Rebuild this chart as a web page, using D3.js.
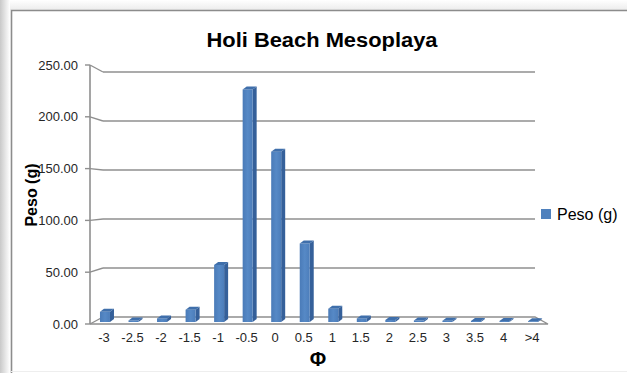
<!DOCTYPE html>
<html><head><meta charset="utf-8">
<script src="https://cdn.jsdelivr.net/npm/d3@7"></script>
<style>html,body{margin:0;padding:0;background:#fff;}svg{display:block;}</style>
</head><body>
<svg id="c" width="627" height="373"></svg>
<script>
const categories = ["-3","-2.5","-2","-1.5","-1","-0.5","0","0.5","1","1.5","2","2.5","3","3.5","4",">4"];
const pesoValues = [10, 1.5, 3.5, 12, 56, 228, 167, 77, 13, 3.5, 2, 1.5, 1.2, 1, 1, 0.8];
const yTickValues = [0, 50, 100, 150, 200, 250];
const chartTitle = "Holi Beach Mesoplaya";
const yTitle = "Peso (g)";
const xTitle = "Φ";
const seriesName = "Peso (g)";

const svg = d3.select("#c");
const font = "'Liberation Sans', Arial, sans-serif";

// background shadow + frame
const defs = svg.append("defs");
const lg = defs.append("linearGradient").attr("id","shL").attr("x1",0).attr("x2",1).attr("y1",0).attr("y2",0);
lg.append("stop").attr("offset",0).attr("stop-color","#c9c9c9");
lg.append("stop").attr("offset",1).attr("stop-color","#ffffff");
const tg = defs.append("linearGradient").attr("id","shT").attr("x1",0).attr("x2",0).attr("y1",0).attr("y2",1);
tg.append("stop").attr("offset",0).attr("stop-color","#ffffff");
tg.append("stop").attr("offset",1).attr("stop-color","#ececec");
const bg = defs.append("linearGradient").attr("id","barF").attr("x1",0).attr("x2",1).attr("y1",0).attr("y2",0);
bg.append("stop").attr("offset",0).attr("stop-color","#4a7bb8");
bg.append("stop").attr("offset",0.5).attr("stop-color","#5689c6");
bg.append("stop").attr("offset",1).attr("stop-color","#4c7dba");
svg.append("rect").attr("x",0).attr("y",0).attr("width",10).attr("height",373).attr("fill","url(#shL)");
svg.append("rect").attr("x",10).attr("y",0).attr("width",617).attr("height",10).attr("fill","url(#shT)");
svg.append("path").attr("d","M11.5,373 V10.5 H627").attr("fill","none").attr("stroke","#8c8c8c").attr("stroke-width",1.6);
svg.append("line").attr("x1",11).attr("x2",627).attr("y1",371.5).attr("y2",371.5).attr("stroke","#eeeeee");

// scales
const x = d3.scaleBand().domain(categories).range([89.7, 546.3]).padding(0);
const yFront = d3.scaleLinear().domain([0,250]).range([324,65]);
const yBack = d3.scaleLinear().domain([0,250]).range([317,72]);
const yBar = d3.scaleLinear().domain([0,250]).range([322,67]);

const axisX = 90, backX = 103, backRight = 535, frontRight = 548;
const grid = "#8f8f8f";

// gridlines (back wall) with diagonal connectors
const g = svg.append("g");
yTickValues.forEach(v => {
  if (v > 0) {
    g.append("line").attr("x1",backX).attr("x2",backRight).attr("y1",yBack(v)).attr("y2",yBack(v))
      .attr("stroke",grid).attr("stroke-width",1.4);
  }
  g.append("line").attr("x1",axisX).attr("x2",backX).attr("y1",yFront(v)).attr("y2",yBack(v))
    .attr("stroke",grid).attr("stroke-width",1.4);
  g.append("line").attr("x1",axisX-5).attr("x2",axisX).attr("y1",yFront(v)).attr("y2",yFront(v))
    .attr("stroke",grid).attr("stroke-width",1.4);
});
// floor
g.append("path")
  .attr("d",`M${axisX},${yFront(0)} L${frontRight},${yFront(0)} L${backRight},${yBack(0)} L${backX},${yBack(0)}`)
  .attr("fill","none").attr("stroke",grid).attr("stroke-width",1.4);
// y axis line
g.append("line").attr("x1",axisX).attr("x2",axisX).attr("y1",yFront(250)).attr("y2",yFront(0))
  .attr("stroke",grid).attr("stroke-width",1.6);

// y labels
const yAxis = d3.axisLeft(yFront).tickValues(yTickValues).tickFormat(d3.format(".2f")).tickSize(0).tickPadding(0);
const ya = svg.append("g").attr("transform",`translate(78,0)`).call(yAxis);
ya.select(".domain").remove();
ya.selectAll("text").attr("font-family",font).attr("font-size",13).attr("fill","#262626");

// x labels
const xAxis = d3.axisBottom(x).tickSize(0).tickPadding(0);
const xa = svg.append("g").attr("transform",`translate(0,337)`).call(xAxis);
xa.select(".domain").remove();
xa.selectAll("text").attr("font-family",font).attr("font-size",13).attr("fill","#262626").attr("dy","0.35em").attr("y",0);

// 3D bars
const dx = 4, dy = 3, off = -4, w = 10;
const bars = svg.append("g");
categories.forEach((c,i) => {
  const v = pesoValues[i];
  const cx = x(c) + x.bandwidth()/2;
  const x0 = cx + off, x1 = x0 + w;
  const yt = yBar(v), yb = yBar(0);
  bars.append("path").attr("d",`M${x1},${yt} L${x1+dx},${yt-dy} L${x1+dx},${yb-dy} L${x1},${yb}Z`).attr("fill","#35609a");
  bars.append("rect").attr("x",x0).attr("y",yt).attr("width",w).attr("height",Math.max(0,yb-yt)).attr("fill","url(#barF)");
  bars.append("path").attr("d",`M${x0},${yt} L${x1},${yt} L${x1+dx},${yt-dy} L${x0+dx},${yt-dy}Z`).attr("fill","#3f6fab");
});

// titles
svg.append("text").attr("x",322).attr("y",47).attr("text-anchor","middle")
  .attr("font-family",font).attr("font-weight","bold").attr("font-size",20)
  .attr("textLength",231).attr("lengthAdjust","spacingAndGlyphs").attr("fill","#000").text(chartTitle);
svg.append("text").attr("transform","translate(37,195) rotate(-90)").attr("text-anchor","middle")
  .attr("font-family",font).attr("font-weight","bold").attr("font-size",16).attr("fill","#000").text(yTitle);
svg.append("text").attr("x",318).attr("y",366).attr("text-anchor","middle")
  .attr("font-family",font).attr("font-weight","bold").attr("font-size",20).attr("fill","#000").text(xTitle);

// legend
svg.append("rect").attr("x",541).attr("y",209).attr("width",10).attr("height",10).attr("fill","#4f81bd");
svg.append("text").attr("x",557).attr("y",220).attr("font-family",font).attr("font-size",16).attr("fill","#000").text(seriesName);
</script>
</body></html>
